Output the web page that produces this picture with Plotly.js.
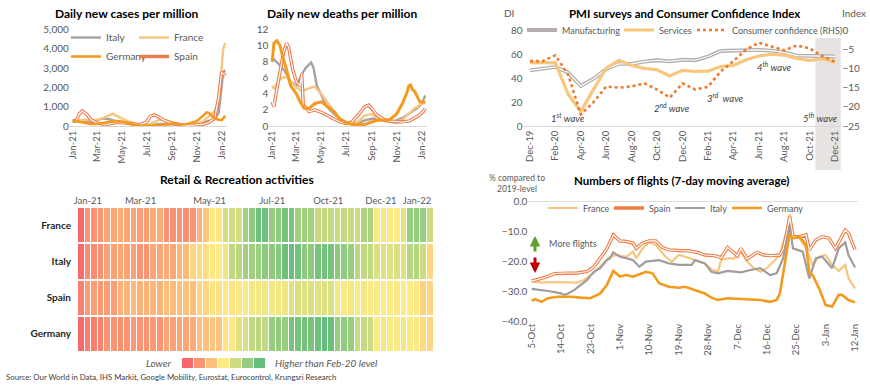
<!DOCTYPE html>
<html><head><meta charset="utf-8">
<script src="https://cdn.plot.ly/plotly-3.0.1.min.js"></script>
<style>html,body{margin:0;padding:0;background:#fff;overflow:hidden;}#chart{width:870px;height:386px;}</style>
</head><body><div id="chart"></div>
<script>
// ---------- DATA ----------
// Daily new cases per million
const caseItalyD = ['2021-01-01','2021-01-15','2021-02-01','2021-02-15','2021-03-01','2021-03-15','2021-04-01','2021-04-15','2021-05-01','2021-05-15','2021-06-01','2021-06-15','2021-07-01','2021-07-15','2021-08-01','2021-08-15','2021-09-01','2021-09-15','2021-10-01','2021-10-15','2021-11-01','2021-11-15','2021-12-01','2021-12-15','2021-12-25','2022-01-01','2022-01-05','2022-01-10'];
const caseItalyV = [230,260,200,210,300,380,350,260,200,130,60,30,20,50,100,110,90,70,50,45,80,160,250,350,700,2000,2800,2900];
const caseFranceD = ['2021-01-01','2021-01-15','2021-02-01','2021-02-15','2021-03-01','2021-03-15','2021-04-01','2021-04-10','2021-04-15','2021-05-01','2021-05-15','2021-06-01','2021-06-15','2021-07-01','2021-07-15','2021-08-01','2021-08-15','2021-09-01','2021-09-15','2021-10-01','2021-10-15','2021-11-01','2021-11-15','2021-12-01','2021-12-15','2021-12-25','2022-01-01','2022-01-05','2022-01-10'];
const caseFranceV = [250,290,330,300,330,400,560,640,560,380,250,150,50,40,150,330,320,200,100,70,70,110,220,500,750,1300,2800,4000,4300];
const caseGermanyD = ['2021-01-01','2021-01-15','2021-02-01','2021-02-15','2021-03-01','2021-03-15','2021-04-01','2021-04-15','2021-05-01','2021-05-15','2021-06-01','2021-06-15','2021-07-01','2021-07-15','2021-08-01','2021-08-15','2021-09-01','2021-09-15','2021-10-01','2021-10-15','2021-11-01','2021-11-15','2021-11-25','2021-12-01','2021-12-15','2021-12-25','2022-01-01','2022-01-10'];
const caseGermanyV = [250,230,160,100,100,140,200,250,230,150,60,20,10,15,30,60,120,100,80,140,250,500,700,680,400,320,300,520];
const caseSpainD = ['2021-01-01','2021-01-10','2021-01-18','2021-01-25','2021-02-05','2021-02-15','2021-03-01','2021-03-15','2021-04-01','2021-04-15','2021-05-01','2021-05-15','2021-06-01','2021-06-15','2021-07-01','2021-07-10','2021-07-20','2021-08-01','2021-08-15','2021-09-01','2021-09-15','2021-10-01','2021-10-15','2021-11-01','2021-11-15','2021-12-01','2021-12-15','2021-12-25','2022-01-01','2022-01-10'];
const caseSpainV = [250,300,650,780,600,320,160,100,100,180,180,130,100,70,200,500,580,450,280,150,80,40,40,50,80,180,400,1500,2800,2600];

// Daily new deaths per million
const deathGermanyD = ['2021-01-01','2021-01-05','2021-01-12','2021-01-20','2021-01-27','2021-02-05','2021-02-15','2021-03-01','2021-03-10','2021-03-20','2021-04-01','2021-04-15','2021-05-01','2021-05-15','2021-06-01','2021-06-15','2021-07-01','2021-07-15','2021-08-01','2021-08-15','2021-09-01','2021-09-15','2021-10-01','2021-10-15','2021-11-01','2021-11-15','2021-11-25','2021-12-01','2021-12-05','2021-12-10','2021-12-15','2021-12-22','2021-12-28','2022-01-05','2022-01-10'];
const deathGermanyV = [8.0,10.3,10.6,10.0,8.5,7.0,5.0,4.0,3.0,2.2,2.2,2.8,3.0,2.5,1.8,0.9,0.4,0.2,0.2,0.2,0.5,0.7,0.7,0.8,1.5,2.8,4.0,5.0,5.1,4.5,4.3,3.5,3.0,3.0,2.9];
const deathSpainD = ['2021-01-01','2021-01-05','2021-01-12','2021-01-20','2021-01-28','2021-02-05','2021-02-10','2021-02-20','2021-03-01','2021-03-10','2021-03-14','2021-03-18','2021-03-25','2021-04-01','2021-04-15','2021-05-01','2021-05-15','2021-06-01','2021-06-15','2021-07-01','2021-07-15','2021-08-01','2021-08-15','2021-08-25','2021-09-05','2021-09-15','2021-10-01','2021-10-15','2021-11-01','2021-11-15','2021-12-01','2021-12-15','2021-12-25','2022-01-05','2022-01-10'];
const deathSpainV = [3.0,2.4,4.5,7.0,9.0,10.3,9.8,7.0,5.5,5.0,6.5,2.5,2.3,1.8,2.0,1.7,1.3,0.8,0.5,0.3,0.5,1.5,2.4,2.6,2.0,1.3,0.8,0.6,0.5,0.5,0.6,1.0,1.3,1.8,2.2];
const deathItalyD = ['2021-01-01','2021-01-05','2021-01-15','2021-02-01','2021-02-15','2021-03-01','2021-03-15','2021-03-25','2021-04-06','2021-04-12','2021-04-20','2021-05-01','2021-05-15','2021-06-01','2021-06-15','2021-07-01','2021-07-15','2021-08-01','2021-08-15','2021-09-01','2021-09-15','2021-10-01','2021-10-15','2021-11-01','2021-11-15','2021-12-01','2021-12-15','2021-12-28','2022-01-05','2022-01-10'];
const deathItalyV = [8.0,8.3,7.8,6.8,5.5,5.0,6.5,7.3,7.9,7.2,5.0,3.8,2.4,1.5,0.9,0.5,0.3,0.4,0.7,0.9,0.9,0.7,0.6,0.7,1.0,1.5,2.0,2.5,3.2,3.8];
const deathFranceD = ['2021-01-01','2021-01-05','2021-01-15','2021-01-25','2021-02-05','2021-02-15','2021-03-01','2021-03-15','2021-04-01','2021-04-15','2021-05-01','2021-05-15','2021-06-01','2021-06-15','2021-07-01','2021-07-15','2021-08-01','2021-08-15','2021-09-01','2021-09-15','2021-10-01','2021-10-15','2021-11-01','2021-11-15','2021-12-01','2021-12-15','2021-12-28','2022-01-05','2022-01-10'];
const deathFranceV = [5.0,4.6,5.5,6.0,6.1,5.5,4.8,4.3,4.7,4.9,4.0,3.0,1.8,0.8,0.4,0.3,0.6,1.3,1.5,1.0,0.6,0.5,0.5,0.8,1.5,2.2,2.6,2.9,3.0];

// PMI surveys & consumer confidence
const pmiMonths = ['Dec-19','Jan-20','Feb-20','Mar-20','Apr-20','May-20','Jun-20','Jul-20','Aug-20','Sep-20','Oct-20','Nov-20','Dec-20','Jan-21','Feb-21','Mar-21','Apr-21','May-21','Jun-21','Jul-21','Aug-21','Sep-21','Oct-21','Nov-21','Dec-21'];
const pmiManufacturing = [46.3,47.9,49.2,44.5,33.4,39.4,47.4,51.8,51.7,53.7,54.8,53.8,55.2,54.8,57.9,62.5,62.9,63.1,63.4,62.8,61.4,58.6,58.3,58.4,58.0];
const pmiServices = [52.8,52.5,52.6,26.4,12.0,30.5,48.3,54.7,50.5,48.0,46.9,41.7,46.4,45.4,45.7,49.6,50.5,55.2,58.3,59.8,59.0,56.4,54.6,55.9,53.1];
const consumerConfidence = [-8.1,-8.1,-6.6,-11.6,-22.0,-18.8,-14.7,-15.0,-14.7,-13.9,-15.5,-17.6,-13.9,-15.5,-14.8,-10.8,-8.1,-5.1,-3.3,-4.4,-5.3,-4.0,-4.8,-6.8,-8.3];
const pmiTickMonths = ['Dec-19','Feb-20','Apr-20','Jun-20','Aug-20','Oct-20','Dec-20','Feb-21','Apr-21','Jun-21','Aug-21','Oct-21','Dec-21'];

// Retail & Recreation heatmap (weekly, index: negative = lower, positive = higher than Feb-20)
const heatCountries = ['France','Italy','Spain','Germany'];
const heatFrance = [-3.0,-2.0,-2.0,-2.0,-1.6,-1.6,-1.5,-1.6,-1.6,-1.8,-1.8,-1.5,-1.5,-2.1,-2.1,-2.0,-2.1,-2.0,-1.3,-0.8,-0.1,-0.1,0.8,0.9,0.8,1.8,2.2,2.8,2.8,2.0,2.1,2.6,2.6,1.8,1.9,1.8,1.1,1.2,1.1,1.0,1.2,1.1,1.0,1.6,1.6,0.1,0.2,0.1,0.0,0.5,2.0,2.1,2.0,1.0];
const heatItaly = [-3.2,-2.2,-2.2,-2.1,-1.7,-1.7,-1.6,-1.7,-1.7,-2.0,-2.0,-1.6,-1.6,-1.5,-1.6,-1.2,-1.1,-0.5,-0.4,-0.3,-0.1,0.0,0.3,1.2,1.3,1.8,1.8,1.9,2.2,2.2,2.3,2.8,2.9,2.7,2.2,2.2,2.6,2.7,2.6,2.2,2.1,2.0,1.3,1.2,1.2,0.7,0.6,0.6,0.7,0.6,1.4,1.5,1.0,-0.5];
const heatSpain = [-2.5,-1.8,-1.8,-1.9,-1.8,-1.8,-1.3,-1.3,-1.2,-1.3,-1.3,-1.2,-1.3,-1.0,-1.1,-1.0,-0.9,-1.0,-0.5,-0.5,-0.2,-0.2,-0.1,-0.2,-0.1,0.1,0.2,0.2,0.3,0.2,0.3,0.3,0.6,0.7,0.6,0.7,0.6,0.6,0.7,0.2,0.1,0.2,0.1,0.2,0.1,0.1,0.0,0.0,-0.1,0.0,0.0,-0.1,-0.6,-0.5];
const heatGermany = [-3.2,-2.5,-2.5,-2.4,-2.0,-2.0,-2.1,-2.0,-1.9,-2.0,-2.0,-1.9,-2.0,-1.6,-1.7,-1.6,-1.6,-1.5,-1.0,-1.0,-0.9,-0.9,-0.2,-0.1,0.6,0.7,1.2,1.3,1.2,2.0,2.1,2.0,2.6,2.6,2.7,2.6,2.8,3.0,2.9,2.0,2.1,2.0,1.0,1.1,1.0,0.1,0.2,0.1,0.1,0.2,0.1,0.1,-0.4,-0.5];
const heatTickPos = [1,9,19.5,29,37.5,45.5,51];
const heatTickText = ['Jan-21','Mar-21','May-21','Jul-21','Oct-21','Dec-21','Jan-22'];
const heatLegendSteps = [-3,-2,-1,0,1,2,3];

// Flights (days since 5-Oct-2021, % vs 2019)
const flTickPos = [0,9,18,27,36,45,54,63,72,81,90,99];
const flTickText = ['5-Oct','14-Oct','23-Oct','1-Nov','10-Nov','19-Nov','28-Nov','7-Dec','16-Dec','25-Dec','3-Jan','12-Jan'];
const flFranceD = [0,3,6,10,14,16,19,22,24,26,29,31,32,34,36,38,41,43,45,47,50,53,55,57,58,60,62,64,66,68,70,72,74,76,78,79,80,82,84,86,88,90,92,94,96,97,99];
const flFranceV = [-26.7,-27.2,-27.0,-27.1,-27.2,-26.3,-24.0,-20.8,-18.6,-18.0,-18.6,-16.9,-19.1,-15.8,-13.6,-14.7,-18.6,-20.2,-18.0,-18.6,-19.7,-20.8,-22.8,-23.6,-19.7,-19.1,-19.1,-16.9,-20.2,-22.4,-23.6,-22.4,-20.2,-18.0,-10.2,-4.4,-11.3,-12.4,-15.8,-21.3,-18.6,-18.0,-21.3,-23.3,-21.3,-25.8,-29.1];
const flSpainD = [0,4,7,10,14,17,19,21,23,25,27,29,31,32,34,36,38,40,42,45,48,51,53,56,58,60,63,64,66,69,71,73,76,77,78,79,80,82,84,85,87,89,91,93,96,97,99];
const flSpainV = [-26.7,-25.5,-24.2,-24.0,-24.0,-23.5,-22.0,-19.0,-16.0,-11.3,-13.3,-13.5,-14.0,-15.8,-14.0,-13.3,-13.3,-15.5,-16.3,-16.5,-16.6,-17.2,-18.0,-18.2,-18.9,-15.5,-18.3,-15.8,-19.3,-17.1,-18.0,-18.2,-18.0,-16.0,-11.3,-5.2,-11.9,-11.9,-11.3,-16.3,-13.0,-11.9,-12.4,-15.8,-9.7,-10.8,-16.3];
const flItalyD = [0,3,5,7,9,10,11,13,15,17,19,21,23,24,25,27,29,31,33,35,39,42,45,49,50,53,55,57,60,64,67,70,73,75,77,79,80,83,84,85,87,89,92,94,96,97,99];
const flItalyV = [-29.3,-29.6,-30.0,-30.4,-30.8,-31.3,-30.9,-29.7,-28.0,-26.3,-23.6,-22.4,-19.7,-19.1,-17.1,-18.6,-19.1,-19.7,-21.9,-20.2,-19.7,-20.8,-21.3,-21.3,-19.7,-20.8,-23.6,-24.1,-23.3,-23.8,-23.0,-22.4,-24.7,-24.1,-19.1,-8.0,-15.8,-16.9,-21.3,-25.8,-19.1,-18.6,-22.4,-15.8,-13.8,-18.0,-22.2];
const flGermanyD = [0,1,3,5,8,12,15,18,21,23,25,27,29,31,33,35,37,39,42,45,47,50,53,55,57,60,64,67,70,73,75,76,77,79,80,82,84,85,86,88,90,92,94,95,97,99];
const flGermanyV = [-33.3,-32.7,-33.6,-32.4,-31.9,-31.9,-32.2,-32.4,-30.8,-28.0,-23.3,-25.2,-24.7,-25.2,-24.4,-23.6,-24.1,-27.4,-28.6,-28.9,-28.6,-29.7,-30.8,-32.2,-33.0,-32.4,-32.7,-33.0,-33.0,-33.6,-33.0,-30.8,-23.6,-10.8,-12.4,-11.9,-14.7,-23.6,-24.7,-29.1,-34.7,-35.2,-31.3,-31.3,-33.0,-33.8];

// ---------- STYLE ----------
const W = 870, H = 386;
const px = v => v / W, py = v => 1 - v / H;
const FONT = 'Lato, "Open Sans", sans-serif';
const TXT = '#595959';
const C = {italy:'#a8a1a1', france:'#f7c67f', germany:'#f39a1f', spain:'#ec7c4c', white:'#ffffff'};

const traces = [];
function line(x, y, xa, ya, color, width, name, legend, show, dash) {
  traces.push({type:'scatter', mode:'lines', x, y, xaxis:xa, yaxis:ya, name,
    line:{color, width, dash: dash || 'solid'}, showlegend: !!show, legend: legend || 'legend'});
}
function dbl(x, y, xa, ya, color, name, legend, show, w) {
  line(x, y, xa, ya, color, w || 3.4, name, legend, show);
  line(x, y, xa, ya, C.white, 1.2, name, legend, false);
}

// Cases
line(caseItalyD, caseItalyV, 'x', 'y', C.italy, 2.4, 'Italy', 'legend', true);
line(caseFranceD, caseFranceV, 'x', 'y', C.france, 2.4, 'France', 'legend4', true);
dbl(caseSpainD, caseSpainV, 'x', 'y', C.spain, 'Spain', 'legend4', true);
line(caseGermanyD, caseGermanyV, 'x', 'y', C.germany, 2.6, 'Germany', 'legend', true);
// Deaths
line(deathItalyD, deathItalyV, 'x2', 'y2', C.italy, 2.4, 'Italy');
line(deathFranceD, deathFranceV, 'x2', 'y2', C.france, 2.4, 'France');
dbl(deathSpainD, deathSpainV, 'x2', 'y2', C.spain, 'Spain');
line(deathGermanyD, deathGermanyV, 'x2', 'y2', C.germany, 3, 'Germany');
// PMI
dbl(pmiMonths, pmiManufacturing, 'x3', 'y3', '#b3adad', 'Manufacturing', 'legend2', true, 3.8);
line(pmiMonths, pmiServices, 'x3', 'y3', '#f8c77d', 3.2, 'Services', 'legend5', true);
line(pmiMonths, consumerConfidence, 'x3', 'y4', '#ef7a2e', 2.6, 'Consumer confidence (RHS)', 'legend6', true, 'dot');
// Heatmap
const cs = [[0,'#f8696b'],[0.5,'#ffeb84'],[1,'#63be7b']];
traces.push({type:'heatmap', z:[heatFrance, heatItaly, heatSpain, heatGermany], y: heatCountries,
  x: heatFrance.map((_, i) => i), xaxis:'x5', yaxis:'y5', colorscale:cs, zmin:-3, zmax:3,
  showscale:false, xgap:1, ygap:2, hoverinfo:'skip'});
traces.push({type:'heatmap', z:[heatLegendSteps], x: heatLegendSteps.map((_, i) => i), y:[0],
  xaxis:'x7', yaxis:'y7', colorscale:cs, zmin:-3, zmax:3, showscale:false, xgap:1, hoverinfo:'skip'});
// Flights
line(flFranceD, flFranceV, 'x6', 'y6', C.france, 2.2, 'France', 'legend3', true);
dbl(flSpainD, flSpainV, 'x6', 'y6', '#ef7d45', 'Spain', 'legend7', true);
line(flItalyD, flItalyV, 'x6', 'y6', '#a39c9c', 2.2, 'Italy', 'legend8', true);
line(flGermanyD, flGermanyV, 'x6', 'y6', '#f29b1e', 2.6, 'Germany', 'legend9', true);

const tickF = {family:FONT, size:10, color:TXT};
const dateAx = (d0, d1) => ({domain:[px(d0), px(d1)], type:'date', range:['2020-12-25','2022-01-14'],
  tick0:'2021-01-01', dtick:'M2', tickformat:'%b-%y', tickangle:-90, tickfont:{family:FONT,size:9.5,color:TXT},
  showgrid:false, zeroline:false, showline:true, linecolor:'#d9d9d9', linewidth:1, ticks:''});
const yDom = [py(126), py(29.5)];

const legBase = {bgcolor:'rgba(0,0,0,0)', borderwidth:0, font:{family:FONT, size:10, color:TXT}, itemwidth:30, tracegroupgap:0};
const legAt = (x, y, size) => Object.assign({}, legBase, {x:px(x), y:py(y), xanchor:'left', yanchor:'middle', orientation:'h',
  font:{family:FONT, size:size, color:TXT}});

const ann = [];
function txt(x, y, text, o) {
  ann.push(Object.assign({xref:'paper', yref:'paper', x:px(x), y:py(y), text, showarrow:false,
    xanchor:'center', yanchor:'middle', font:{family:FONT, size:10, color:TXT}}, o || {}));
}
const titleF = {family:FONT, size:12, color:'#000'};
txt(127, 13, '<b>Daily new cases per million</b>', {font:titleF});
txt(342, 13, '<b>Daily new deaths per million</b>', {font:titleF});
txt(684, 13, '<b>PMI surveys and Consumer Confidence Index</b>', {font:{family:FONT, size:11.5, color:'#000'}});
txt(237, 179, '<b>Retail &amp; Recreation activities</b>', {font:titleF});
txt(681, 180, '<b>Numbers of flights (7-day moving average)</b>', {font:{family:FONT, size:11.5, color:'#000'}});
txt(509, 13, 'DI');
txt(854, 13, 'Index');
txt(517, 183, '% compared to<br>2019-level', {font:{family:FONT, size:8.5, color:TXT}});
txt(547, 243, 'More flights', {xanchor:'left', font:{family:FONT, size:9, color:TXT}});
const waveF = {family:FONT, size:9.5, color:'#404040'};
txt(568, 118, '<i>1<sup>st</sup> wave</i>', {font:waveF});
txt(672, 107, '<i>2<sup>nd</sup> wave</i>', {font:waveF});
txt(725, 97, '<i>3<sup>rd</sup>  wave</i>', {font:waveF});
txt(774, 67, '<i>4<sup>th</sup> wave</i>', {font:waveF});
txt(820, 118, '<i>5<sup>th</sup> wave</i>', {font:waveF});
txt(173, 363, '<i>Lower</i>', {xanchor:'right', font:{family:FONT, size:10, color:TXT}});
txt(273, 363, '<i>Higher than Feb-20 level</i>', {xanchor:'left', font:{family:FONT, size:10, color:TXT}});
txt(4, 377, 'Source: Our World in Data, IHS Markit, Google Mobility, Eurostat, Eurocontrol, Krungsri Research', {xanchor:'left', font:{family:FONT, size:7.8, color:'#404040'}});
ann.push({xref:'paper', yref:'paper', x:px(535), y:py(236), ax:0, ay:17, text:'', showarrow:true,
  arrowhead:2, arrowsize:0.7, arrowwidth:3, arrowcolor:'#5e9e2c'});
ann.push({xref:'paper', yref:'paper', x:px(535), y:py(273), ax:0, ay:-17, text:'', showarrow:true,
  arrowhead:2, arrowsize:0.7, arrowwidth:3, arrowcolor:'#c00000'});

const layout = {
  width:W, height:H, margin:{l:0, r:0, t:0, b:0}, paper_bgcolor:'#fff', plot_bgcolor:'rgba(0,0,0,0)',
  font:{family:FONT, color:TXT}, hovermode:false,
  xaxis: dateAx(69.8, 226.9),
  yaxis: {domain:yDom, range:[0,5000], dtick:1000, tickformat:',', tickfont:tickF, showgrid:false, zeroline:false, ticks:''},
  xaxis2: Object.assign(dateAx(269.4, 426.9), {anchor:'y2'}),
  yaxis2: {domain:yDom, anchor:'x2', range:[0,12], dtick:2, tickfont:tickF, showgrid:false, zeroline:false, ticks:''},
  xaxis3: {domain:[px(523.6), px(841.4)], anchor:'y3', type:'category', range:[-0.5, 24.5], tickvals:pmiTickMonths, ticktext:pmiTickMonths,
    tickangle:-90, tickfont:{family:FONT,size:9.5,color:TXT}, showgrid:false, showline:true, linecolor:'#d9d9d9', ticks:''},
  yaxis3: {domain:[py(126), py(30)], anchor:'x3', range:[0,80], dtick:20, tickfont:tickF, showgrid:false, zeroline:false, ticks:''},
  yaxis4: {domain:[py(126), py(30)], anchor:'x3', overlaying:'y3', side:'right', range:[-25,0], dtick:5, tickfont:tickF, showgrid:false, zeroline:false, ticks:''},
  xaxis5: {domain:[px(78), px(433.5)], anchor:'y5', side:'top', range:[-0.5, 53.5], tickvals:heatTickPos, ticktext:heatTickText,
    tickfont:{family:FONT,size:9.5,color:TXT}, showgrid:false, zeroline:false, ticks:''},
  yaxis5: {domain:[py(352), py(207)], anchor:'x5', autorange:'reversed', type:'category', tickvals:heatCountries,
    ticktext:heatCountries.map(c => '<b>' + c + '</b>'), tickfont:{family:FONT,size:10,color:'#262626'}, showgrid:false, zeroline:false, ticks:'', ticklabelstandoff:6},
  xaxis6: {domain:[px(528.4), px(858.3)], anchor:'y6', range:[-1, 100], tickvals:flTickPos, ticktext:flTickText, tickangle:-90,
    tickfont:{family:FONT,size:9.5,color:TXT}, showgrid:false, zeroline:false, showline:false, ticks:''},
  yaxis6: {domain:[py(321), py(201)], anchor:'x6', range:[-40, 0], dtick:10, tickformat:'.1f', tickfont:tickF, showgrid:false, zeroline:false, ticks:''},
  xaxis7: {domain:[px(182), px(266)], anchor:'y7', visible:false, range:[-0.5, 6.5]},
  yaxis7: {domain:[py(368), py(358)], anchor:'x7', visible:false, range:[-0.5, 0.5]},
  legend: Object.assign({}, legBase, {x:px(66), y:py(23), xanchor:'left', yanchor:'top', orientation:'v'}),
  legend4: Object.assign({}, legBase, {x:px(134), y:py(23), xanchor:'left', yanchor:'top', orientation:'v'}),
  legend2: legAt(522, 30, 9),
  legend5: legAt(619, 30, 9),
  legend6: legAt(692, 30, 9),
  legend3: legAt(543, 208, 9),
  legend7: legAt(609, 208, 9),
  legend8: legAt(670, 208, 9),
  legend9: legAt(727, 208, 9),
  shapes: [
    {type:'rect', xref:'x3', yref:'paper', x0:22.45, x1:24.45, y0:py(170), y1:py(38), fillcolor:'#e8e3e3', line:{width:0}, layer:'below'},
    {type:'line', xref:'x6 domain', yref:'y6', x0:0, x1:1, y0:0, y1:0, line:{color:'#bfbfbf', width:1}}
  ],
  annotations: ann
};
Plotly.newPlot('chart', traces, layout, {staticPlot:true, displayModeBar:false});
</script></body></html>
